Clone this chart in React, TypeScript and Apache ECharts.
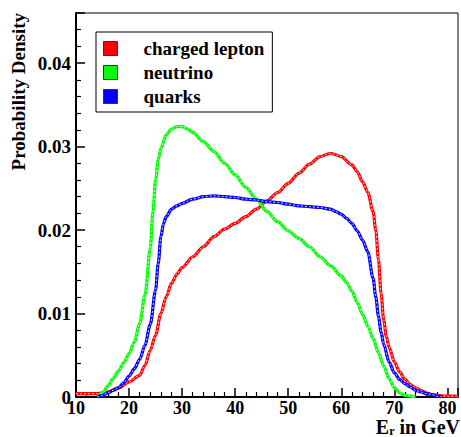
import React, { useEffect, useRef } from 'react';
import * as echarts from 'echarts';

const leptonX = [10, 12, 14, 16, 18, 20, 22, 23, 24, 25, 26, 27, 28, 29, 30, 32, 34, 36, 38, 40, 42, 44, 46, 48, 50, 52, 54, 56, 58, 60, 62, 63, 64, 65, 66, 66.5, 67, 67.5, 68, 68.5, 69, 70, 71, 72, 73, 74, 75, 76, 77, 78, 80, 82];
const leptonY = [0.0004, 0.0004, 0.0004, 0.0006, 0.0011, 0.0018, 0.0026, 0.0038, 0.0056, 0.0074, 0.0100, 0.0120, 0.0136, 0.0147, 0.0155, 0.0168, 0.0180, 0.0192, 0.0201, 0.0208, 0.0216, 0.0225, 0.0235, 0.0245, 0.0256, 0.0268, 0.0279, 0.0288, 0.0292, 0.0288, 0.0278, 0.0270, 0.0258, 0.0245, 0.0222, 0.0200, 0.0165, 0.0124, 0.0092, 0.0072, 0.0060, 0.0042, 0.0030, 0.0021, 0.0015, 0.0011, 0.0008, 0.0005, 0.0003, 0.0002, 0.0001, 0.0001];

const neutrinoX = [14, 15, 16, 17, 18, 19, 20, 21, 22, 23, 24, 24.5, 25, 25.5, 26, 27, 28, 29, 30, 31, 32, 34, 36, 38, 40, 42, 44, 46, 48, 50, 52, 54, 56, 58, 60, 61, 62, 63, 64, 65, 66, 67, 68, 69, 70, 71, 72, 73, 74];
const neutrinoY = [0, 0.0005, 0.0013, 0.0022, 0.0031, 0.0041, 0.0052, 0.0066, 0.0088, 0.0122, 0.0178, 0.0222, 0.0260, 0.0284, 0.0298, 0.0314, 0.0321, 0.0324, 0.0324, 0.0321, 0.0317, 0.0306, 0.0294, 0.0280, 0.0266, 0.0251, 0.0237, 0.0222, 0.0210, 0.0199, 0.0190, 0.0180, 0.0168, 0.0157, 0.0145, 0.0137, 0.0127, 0.0113, 0.0099, 0.0085, 0.0070, 0.0053, 0.0037, 0.0022, 0.0011, 0.0005, 0.0002, 0.0001, 0];

const quarksX = [14, 15, 16, 17, 18, 19, 20, 21, 22, 23, 24, 25, 25.5, 26, 26.5, 27, 28, 29, 30, 32, 34, 36, 38, 40, 42, 44, 46, 48, 50, 52, 54, 56, 58, 59, 60, 61, 62, 63, 64, 65, 66, 66.5, 67, 67.5, 68, 69, 70, 71, 72, 73, 74, 75, 76, 77, 78, 79];
const quarksY = [0, 0.0002, 0.0005, 0.0008, 0.0011, 0.0017, 0.0025, 0.0034, 0.0045, 0.0062, 0.0087, 0.0128, 0.0160, 0.0192, 0.0208, 0.0216, 0.0225, 0.0229, 0.0232, 0.0237, 0.0240, 0.0241, 0.0240, 0.0239, 0.0237, 0.0236, 0.0234, 0.0233, 0.0231, 0.0229, 0.0228, 0.0227, 0.0225, 0.0222, 0.0219, 0.0214, 0.0208, 0.0199, 0.0188, 0.0174, 0.0142, 0.0120, 0.0097, 0.0078, 0.0063, 0.0042, 0.0029, 0.0021, 0.0016, 0.0012, 0.0008, 0.0006, 0.0004, 0.0003, 0.0001, 0];

const seriesNames = ['charged lepton', 'neutrino', 'quarks'];
const seriesColors = ['#ff0000', '#00ff00', '#0000ff'];
const xTickLabels = [10, 20, 30, 40, 50, 60, 70, 80];
const yTickLabels = [0, 0.01, 0.02, 0.03, 0.04];

const FONT = '"Liberation Serif", "Times New Roman", serif';

function zip(xs: number[], ys: number[]) {
  const n = Math.min(xs.length, ys.length);
  const out: number[][] = [];
  for (let i = 0; i < n; i++) out.push([xs[i], ys[i]]);
  return out;
}

export default function App() {
  const ref = useRef<HTMLDivElement>(null);
  useEffect(() => {
    if (!ref.current) return;
    const chart = echarts.init(ref.current, null, { renderer: 'svg' });
    const datasets = [zip(leptonX, leptonY), zip(neutrinoX, neutrinoY), zip(quarksX, quarksY)];
    const series: any[] = [];
    datasets.forEach((d, i) => {
      series.push({
        name: seriesNames[i],
        type: 'line',
        data: d,
        showSymbol: false,
        smooth: 0.3,
        smoothMonotone: 'x',
        color: seriesColors[i],
        itemStyle: { color: seriesColors[i] },
        lineStyle: { color: seriesColors[i], width: 3.2 },
        z: 2 + i,
      });
      series.push({
        name: seriesNames[i] + ' band',
        type: 'line',
        data: d,
        showSymbol: false,
        smooth: 0.3,
        smoothMonotone: 'x',
        silent: true,
        lineStyle: { color: 'rgba(255,255,255,0.85)', width: 1, type: [2, 2] },
        z: 2 + i,
      });
    });
    const option: any = {
      animation: false,
      backgroundColor: '#ffffff',
      grid: {
        left: 76, right: 1, top: 13, bottom: 40,
        show: true, borderColor: '#000', borderWidth: 1, backgroundColor: 'transparent',
      },
      legend: {
        data: seriesNames,
        orient: 'vertical',
        left: 96,
        top: 32,
        padding: [7, 8, 6, 7],
        itemGap: 5,
        itemWidth: 14,
        itemHeight: 14,
        icon: 'rect',
        borderColor: '#000',
        borderWidth: 1,
        backgroundColor: '#fff',
        itemStyle: { borderColor: '#333', borderWidth: 1 },
        textStyle: {
          color: '#000', fontFamily: FONT, fontWeight: 'bold', fontSize: 19,
          padding: [0, 0, 0, 21],
        },
      },
      xAxis: {
        type: 'value',
        min: 10,
        max: 82,
        interval: 10,
        axisLine: { show: true, onZero: false, lineStyle: { color: '#000', width: 2 } },
        axisTick: { show: true, inside: true, length: 9, lineStyle: { color: '#000', width: 1.5 } },
        minorTick: { show: true, splitNumber: 5, length: 5, lineStyle: { color: '#000', width: 1.2 } },
        splitLine: { show: false },
        axisLabel: {
          margin: 2,
          color: '#000', fontFamily: FONT, fontWeight: 'bold', fontSize: 18,
          formatter: (v: number) => (xTickLabels.indexOf(v) >= 0 ? String(v) : ''),
        },
      },
      yAxis: {
        type: 'value',
        min: 0,
        max: 0.046,
        interval: 0.01,
        axisLine: { show: true, onZero: false, lineStyle: { color: '#000', width: 2 } },
        axisTick: { show: true, inside: true, length: 9, lineStyle: { color: '#000', width: 1.5 } },
        minorTick: { show: true, splitNumber: 5, length: 5, lineStyle: { color: '#000', width: 1.2 } },
        splitLine: { show: false },
        axisLabel: {
          margin: 5,
          color: '#000', fontFamily: FONT, fontWeight: 'bold', fontSize: 19,
          formatter: (v: number) => {
            const hit = yTickLabels.find((t) => Math.abs(t - v) < 1e-9);
            if (hit === undefined) return '';
            return hit === 0 ? '0' : hit.toFixed(2);
          },
        },
      },
      graphic: [
        {
          type: 'text',
          x: 18,
          y: 13,
          rotation: Math.PI / 2,
          style: {
            text: 'Probability Density',
            fill: '#000',
            fontFamily: FONT,
            fontWeight: 'bold',
            fontSize: 19,
            align: 'right',
            verticalAlign: 'middle',
          },
        },
        {
          type: 'text',
          x: 460,
          y: 437,
          style: {
            text: '{a|E}{s|r}{a| in GeV}',
            fill: '#000',
            align: 'right',
            verticalAlign: 'bottom',
            rich: {
              a: { fontFamily: FONT, fontWeight: 'bold', fontSize: 20, lineHeight: 19, fill: '#000', verticalAlign: 'bottom' },
              s: { fontFamily: FONT, fontWeight: 'bold', fontSize: 12, lineHeight: 12, fill: '#000', verticalAlign: 'bottom' },
            },
          },
        },
      ],
      series,
    };
    chart.setOption(option);
    return () => chart.dispose();
  }, []);
  return <div ref={ref} style={{ position: 'fixed', left: 0, top: 0, width: 461, height: 437 }} />;
}
